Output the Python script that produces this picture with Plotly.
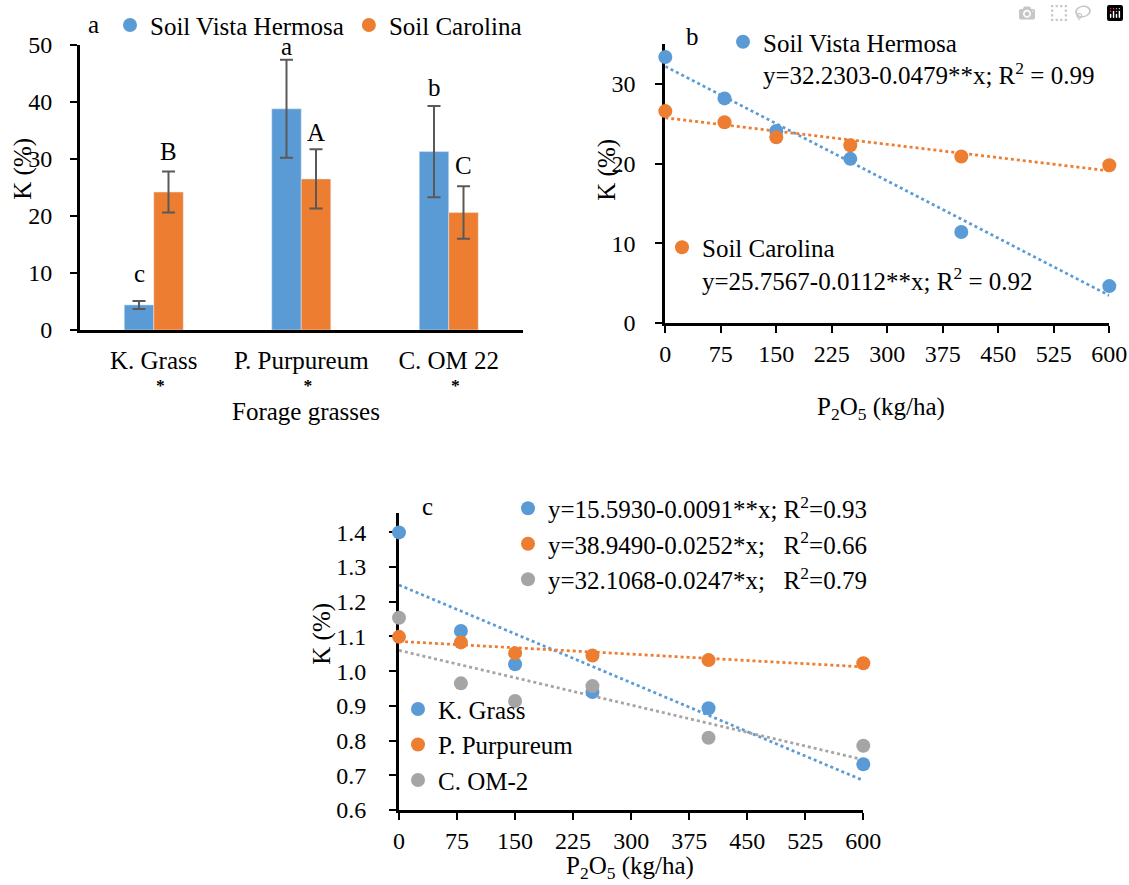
import numpy as np
import plotly.graph_objects as go

# ---------------- data ----------------
# Panel a
grasses = ["K. Grass", "P. Purpureum", "C. OM 22"]
vh_mean = [4.4, 38.8, 31.3]
vh_err = [0.7, 8.6, 8.0]
car_mean = [24.2, 26.5, 20.6]
car_err = [3.6, 5.2, 4.6]
vh_letters = ["c", "a", "b"]
car_letters = ["B", "A", "C"]
signif = ["*", "*", "*"]
soils = ["Soil Vista Hermosa", "Soil Carolina"]

# Panel b
p2o5 = [0, 80, 150, 250, 400, 600]
soil_vh = [33.4, 28.2, 24.1, 20.6, 11.4, 4.6]
soil_car = [26.6, 25.2, 23.3, 22.3, 20.9, 19.8]
eq_b = ["y=32.2303-0.0479**x; R<sup>2</sup> = 0.99",
        "y=25.7567-0.0112**x; R<sup>2</sup> = 0.92"]

# Panel c
k_grass = [1.400, 1.116, 1.020, 0.940, 0.893, 0.732]
p_purp = [1.099, 1.083, 1.052, 1.045, 1.032, 1.023]
c_om2 = [1.154, 0.965, 0.914, 0.957, 0.808, 0.785]
names_c = ["K. Grass", "P. Purpureum", "C. OM-2"]
eq_c = ["y=15.5930-0.0091**x; R<sup>2</sup>=0.93",
        "y=38.9490-0.0252*x;&nbsp;&nbsp;&nbsp;R<sup>2</sup>=0.66",
        "y=32.1068-0.0247*x;&nbsp;&nbsp;&nbsp;R<sup>2</sup>=0.79"]

# ---------------- style ----------------
FONT = "Liberation Serif"
FS = 25      # text size
TFS = 24     # tick label size
BLUE, ORANGE, GRAY = "#5B9BD5", "#ED7D31", "#A5A5A5"
W, H = 1129, 885
MS = 14


def px(x):
    return x / W


def py(y):
    return 1 - y / H


def trend(x, y):
    slope, icpt = np.polyfit(x, y, 1)
    xs = np.array([min(x), max(x)], dtype=float)
    return xs, icpt + slope * xs


fig = go.Figure()

# ---- panel a: bars ----
for ys, er, col, nm in zip([vh_mean, car_mean], [vh_err, car_err], [BLUE, ORANGE], soils):
    fig.add_trace(go.Bar(x=grasses, y=ys, marker_color=col, showlegend=False, name=nm,
                         error_y=dict(type="data", array=er, color="#595959",
                                      thickness=2, width=6.5),
                         xaxis="x", yaxis="y"))
for nm, col in zip(soils, [BLUE, ORANGE]):
    fig.add_trace(go.Scatter(x=[None], y=[None], mode="markers", name=nm,
                             marker=dict(size=MS, color=col), legend="legend",
                             xaxis="x", yaxis="y"))

# ---- panel b ----
for ys, col in zip([soil_vh, soil_car], [BLUE, ORANGE]):
    tx, ty = trend(p2o5, ys)
    fig.add_trace(go.Scatter(x=tx, y=ty, mode="lines", showlegend=False,
                             line=dict(color=col, width=2.75, dash="dot"),
                             xaxis="x2", yaxis="y2", hoverinfo="skip"))
for ys, col, nm, eq, lg in zip([soil_vh, soil_car], [BLUE, ORANGE], soils, eq_b,
                               ["legend2", "legend3"]):
    fig.add_trace(go.Scatter(x=p2o5, y=ys, mode="markers", name=nm + "<br>" + eq,
                             marker=dict(size=MS, color=col), legend=lg, cliponaxis=False,
                             xaxis="x2", yaxis="y2"))

# ---- panel c ----
series_c = [k_grass, p_purp, c_om2]
cols_c = [BLUE, ORANGE, GRAY]
for ys, col in zip(series_c, cols_c):
    tx, ty = trend(p2o5, ys)
    fig.add_trace(go.Scatter(x=tx, y=ty, mode="lines", showlegend=False,
                             line=dict(color=col, width=2.75, dash="dot"),
                             xaxis="x3", yaxis="y3", hoverinfo="skip"))
for i, (ys, col, nm) in enumerate(zip(series_c, cols_c, names_c)):
    fig.add_trace(go.Scatter(x=p2o5, y=ys, mode="markers", name=nm,
                             marker=dict(size=MS, color=col), legend="legend5",
                             legendgroup="n%d" % i, cliponaxis=False,
                             xaxis="x3", yaxis="y3"))
for i, (eq, col) in enumerate(zip(eq_c, cols_c)):
    fig.add_trace(go.Scatter(x=[None], y=[None], mode="markers", name=eq,
                             marker=dict(size=MS, color=col), legend="legend4",
                             legendgroup="e%d" % i, xaxis="x3", yaxis="y3"))

# ---------------- axes ----------------
tickfont = dict(family=FONT, size=TFS, color="black")
ax = dict(showline=True, linecolor="black", linewidth=3, ticks="outside", ticklen=7,
          tickwidth=2, tickcolor="black", showgrid=False, zeroline=False,
          tickfont=tickfont, layer="below traces", automargin=False, fixedrange=True)

cat_text = [g + "<br><sup>&nbsp;&nbsp;&nbsp;<b>" + s + "</b></sup>" for g, s in zip(grasses, signif)]

fig.update_layout(
    xaxis=dict(ax, domain=[px(80), px(522.5)], anchor="y", type="category", ticks="",
               tickmode="array", tickvals=grasses, ticktext=cat_text,
               tickfont=dict(family=FONT, size=FS, color="black"), ticklabelstandoff=6),
    yaxis=dict(ax, domain=[py(330), py(45)], anchor="x", range=[0, 50], dtick=10,
               ticklabelstandoff=13),
    xaxis2=dict(ax, domain=[px(665.3), px(1109.3)], anchor="y2", range=[0, 600], tick0=0,
                dtick=75, ticklabelstandoff=0),
    yaxis2=dict(ax, domain=[py(322.7), py(44.3)], anchor="x2", range=[0, 35], tick0=0,
                dtick=10, ticklabelstandoff=15),
    xaxis3=dict(ax, domain=[px(399), px(863.3)], anchor="y3", range=[0, 600], tick0=0,
                dtick=75, ticklabelstandoff=0),
    yaxis3=dict(ax, domain=[py(810), py(513.3)], anchor="x3", range=[0.6, 1.455], tick0=0.6,
                dtick=0.1, tickformat=".1f", ticklabelstandoff=18),
    barmode="group", bargap=0.6, bargroupgap=0,
)

# ---------------- legends ----------------
lgfont = dict(family=FONT, size=FS, color="black")
lg = dict(font=lgfont, bgcolor="rgba(0,0,0,0)", borderwidth=0, xanchor="left",
          yanchor="top", valign="top", itemclick=False, itemdoubleclick=False)
fig.update_layout(
    legend=dict(lg, orientation="h", x=px(110), y=py(2.3)),
    legend2=dict(lg, x=px(723), y=py(19)),
    legend3=dict(lg, x=px(662), y=py(224.5)),
    legend4=dict(lg, x=px(508), y=py(485.5), tracegroupgap=0),
    legend5=dict(lg, x=px(398), y=py(686.3), tracegroupgap=0),
)

# ---------------- annotations ----------------
ann = []
tf = dict(family=FONT, size=FS, color="black")
vh_shift = [27.4, 13.4, 18.4]
car_shift = [19.8, 17.3, 21.2]
for i, g in enumerate(grasses):
    ann.append(dict(x=g, y=vh_mean[i] + vh_err[i], xref="x", yref="y", text=vh_letters[i],
                    xshift=-14.75, yshift=vh_shift[i], showarrow=False, font=tf,
                    xanchor="center", yanchor="middle"))
    ann.append(dict(x=g, y=car_mean[i] + car_err[i], xref="x", yref="y", text=car_letters[i],
                    xshift=14.75, yshift=car_shift[i], showarrow=False, font=tf,
                    xanchor="center", yanchor="middle"))

texts = [
    ("a", 93, 24.5, 0), ("b", 692.7, 37, 0), ("c", 427.7, 506, 0),
    ("K (%)", 22.7, 169, -90), ("Forage grasses", 306, 411, 0),
    ("K (%)", 606.7, 170, -90), ("P<sub>2</sub>O<sub>5</sub> (kg/ha)", 881, 408, 0),
    ("K (%)", 321.7, 634, -90), ("P<sub>2</sub>O<sub>5</sub> (kg/ha)", 630, 867.5, 0),
]
for t, x, y, ang in texts:
    ann.append(dict(x=px(x), y=py(y), xref="paper", yref="paper", text=t, textangle=ang,
                    showarrow=False, font=tf, xanchor="center", yanchor="middle"))

fig.update_layout(
    annotations=ann,
    width=W, height=H,
    margin=dict(l=0, r=0, t=0, b=0, autoexpand=False),
    paper_bgcolor="white", plot_bgcolor="white",
    font=dict(family=FONT, size=FS, color="black"),
    hovermode=False,
)

fig.write_html("out.html", post_script="document.body.style.margin='0';")
